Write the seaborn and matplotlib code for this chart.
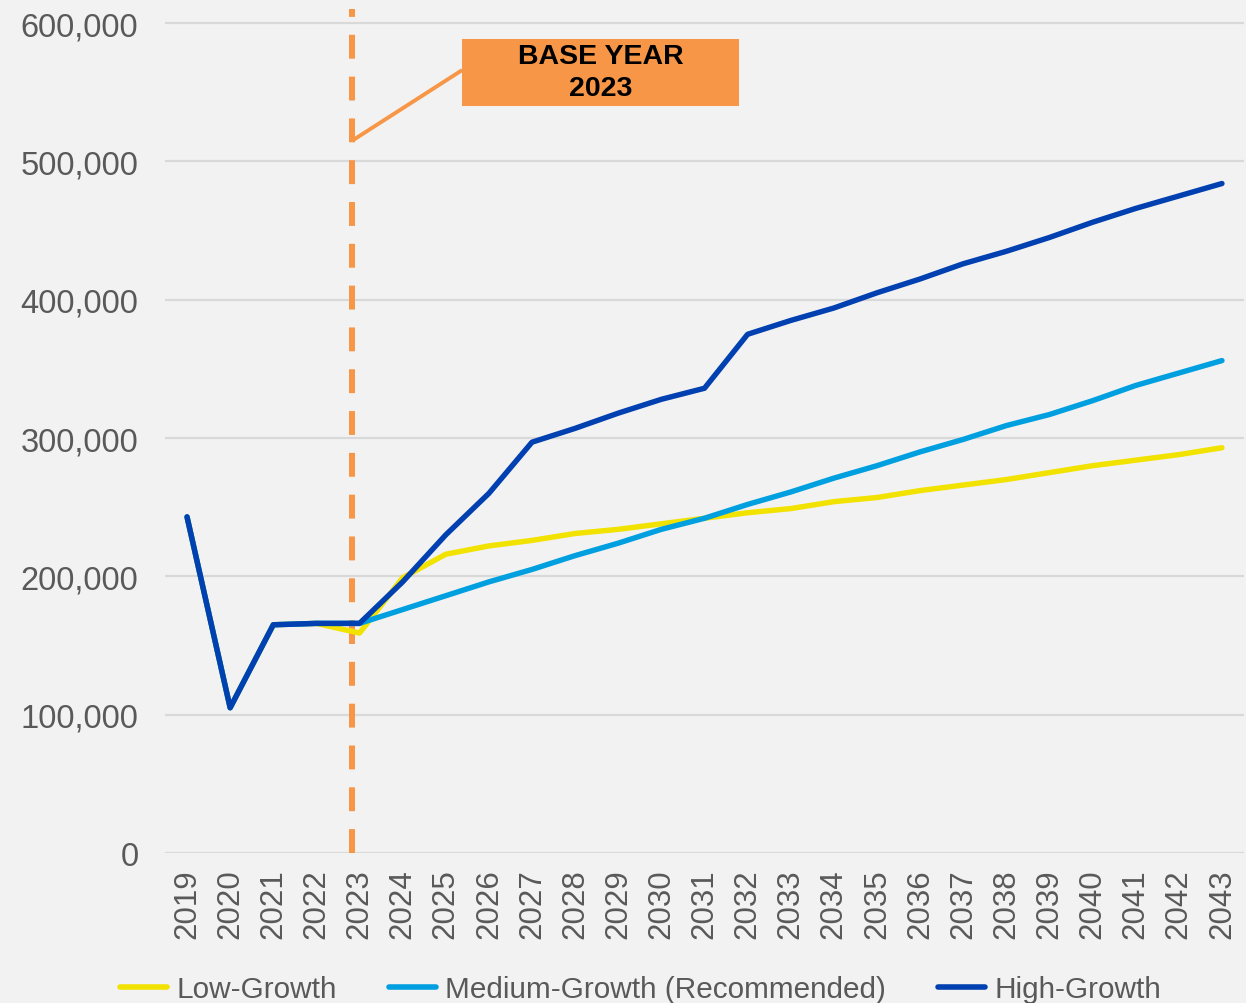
import matplotlib
matplotlib.use("Agg")
import matplotlib.pyplot as plt
import matplotlib.ticker as mticker
from matplotlib.patches import Rectangle
import pandas as pd
import seaborn as sns

# forecast data
years = list(range(2019, 2044))
low_growth = [243000, 105000, 165000, 166000, 159000, 199000, 216000, 222000, 226000, 231000,
              234000, 238000, 242000, 246000, 249000, 254000, 257000, 262000, 266000, 270000,
              275000, 280000, 284000, 288000, 293000]
medium_growth = [243000, 105000, 165000, 166000, 166000, 176000, 186000, 196000, 205000, 215000,
                 224000, 234000, 242000, 252000, 261000, 271000, 280000, 290000, 299000, 309000,
                 317000, 327000, 338000, 347000, 356000]
high_growth = [243000, 105000, 165000, 166000, 166000, 196000, 230000, 260000, 297000, 307000,
               318000, 328000, 336000, 375000, 385000, 394000, 405000, 415000, 426000, 435000,
               445000, 456000, 466000, 475000, 484000]
series_names = ["Low-Growth", "Medium-Growth (Recommended)", "High-Growth"]
series_colors = ["#F2E200", "#00A0E0", "#0040B0"]
base_year = 2023

df = pd.concat([
    pd.DataFrame({"Year": years, "Value": vals, "Scenario": name})
    for name, vals in zip(series_names, [low_growth, medium_growth, high_growth])
])

bg = "#F2F2F2"
grey = "#595959"
orange = "#F79646"

sns.set_theme(style="white")
plt.rcParams["font.family"] = ["Liberation Sans", "DejaVu Sans"]

fig = plt.figure(figsize=(12.46, 10.04), dpi=100, facecolor=bg)
ax = fig.add_axes([0.1328, 0.1494, 0.8652, 0.8404])
ax.set_facecolor(bg)

ax.grid(axis="y", color="#D9D9D9", linewidth=1.6)
ax.set_axisbelow(True)

# base year marker (drawn just left of the 2023 category, as in the original)
marker_x = base_year - 0.17
ax.axvline(marker_x, color=orange, linewidth=4.3, linestyle=(0, (4, 3)), zorder=1)

sns.lineplot(data=df, x="Year", y="Value", hue="Scenario", palette=series_colors,
             linewidth=3.9, ax=ax, legend=True, zorder=3)
for ln in ax.lines[1:]:
    ln.set_solid_capstyle("round")
    ln.set_solid_joinstyle("round")

ax.set_xlim(2018.5, 2043.5)
ax.set_ylim(0, 610000)
ax.set_xticks(years)
ax.set_xticklabels([str(y) for y in years], rotation=90)
ax.set_yticks(range(0, 600001, 100000))
ax.yaxis.set_major_formatter(mticker.FuncFormatter(lambda v, p: f"{int(v):,}"))
ax.tick_params(axis="y", labelsize=23.5, colors=grey, length=0, pad=19.5)
ax.tick_params(axis="x", labelsize=22.5, colors=grey, length=0, pad=11)
ax.set_xlabel("")
ax.set_ylabel("")
for s in ax.spines.values():
    s.set_visible(False)

# base year callout
ax.plot([marker_x, 2025.38], [515000, 566000], color=orange, linewidth=2.8, zorder=2,
        solid_capstyle="butt")
ax.add_patch(Rectangle((2025.38, 540000), 6.42, 48600, facecolor=orange, edgecolor="none",
                       zorder=4))
ax.text(2028.59, 564300, "BASE YEAR\n2023", ha="center", va="center", fontsize=20.5,
        fontweight="bold", color="black", linespacing=1.3, zorder=5)

handles, labels = ax.get_legend_handles_labels()
ax.legend_.remove()
leg = fig.legend(handles, labels, loc="lower center", bbox_to_anchor=(0.514, -0.027), ncol=3,
                 frameon=False, fontsize=21.4, handlelength=1.6, handletextpad=0.3,
                 columnspacing=1.75, labelcolor=grey)
for h in leg.legend_handles:
    h.set_linewidth(4)

fig.savefig("out.png", dpi=100, facecolor=bg)
